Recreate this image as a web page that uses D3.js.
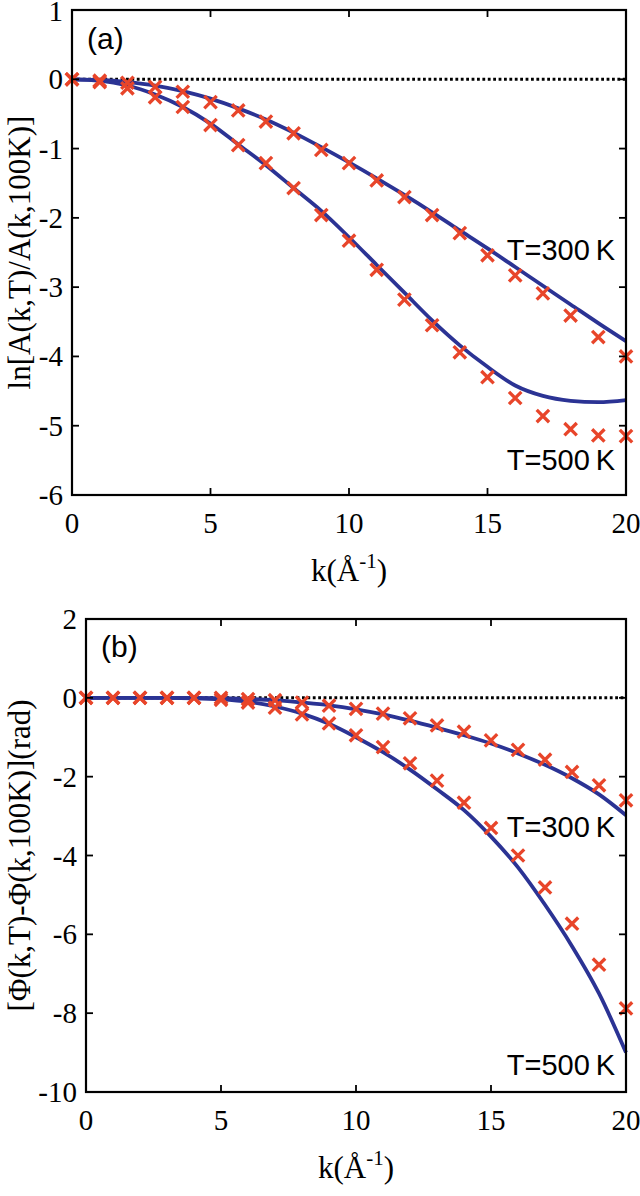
<!DOCTYPE html>
<html>
<head>
<meta charset="utf-8">
<script src="https://cdn.jsdelivr.net/npm/d3@7"></script>
<style>
  html, body { margin: 0; padding: 0; background: #fff; }
  svg { display: block; }
</style>
</head>
<body>
<svg id="chart" width="640" height="1196"></svg>
<script>
// ---------- data ----------
const kValues = [0,1,2,3,4,5,6,7,8,9,10,11,12,13,14,15,16,17,18,19,20];

// panel (a): ln[A(k,T)/A(k,100K)]
const a300Markers = [0, -0.02, -0.05, -0.11, -0.18, -0.33, -0.45, -0.61, -0.78, -1.02, -1.21, -1.46, -1.7, -1.96, -2.22, -2.54, -2.83, -3.09, -3.41, -3.72, -4.0];
const a500Markers = [0, -0.04, -0.13, -0.26, -0.4, -0.66, -0.95, -1.21, -1.57, -1.96, -2.33, -2.75, -3.18, -3.55, -3.94, -4.3, -4.6, -4.86, -5.05, -5.14, -5.15];
const a300Line = [0, -0.01, -0.04, -0.09, -0.17, -0.28, -0.42, -0.58, -0.77, -0.98, -1.2, -1.43, -1.67, -1.92, -2.18, -2.44, -2.71, -2.98, -3.25, -3.52, -3.78];
const a500Line = [0, -0.02, -0.09, -0.22, -0.4, -0.64, -0.94, -1.24, -1.57, -1.9, -2.28, -2.68, -3.08, -3.48, -3.84, -4.15, -4.42, -4.57, -4.64, -4.66, -4.63];

// panel (b): [Phi(k,T)-Phi(k,100K)](rad)
const b300Markers = [0, 0, 0, 0, 0, 0, -0.03, -0.06, -0.12, -0.2, -0.28, -0.4, -0.52, -0.7, -0.86, -1.08, -1.32, -1.57, -1.88, -2.22, -2.6];
const b500Markers = [0, 0, 0, 0, 0, -0.05, -0.12, -0.25, -0.42, -0.65, -0.95, -1.25, -1.66, -2.1, -2.66, -3.3, -4.0, -4.81, -5.73, -6.77, -7.88];
const b300Line = [0, 0, 0, 0, 0, -0.01, -0.03, -0.06, -0.12, -0.19, -0.29, -0.42, -0.58, -0.76, -0.95, -1.16, -1.41, -1.7, -2.04, -2.45, -2.98];
const b500Line = [0, 0, 0, 0, -0.01, -0.04, -0.1, -0.22, -0.4, -0.66, -1.0, -1.38, -1.82, -2.32, -2.85, -3.52, -4.3, -5.25, -6.3, -7.5, -9.0];

const xTicks = [0, 5, 10, 15, 20];
const aYTicks = [1, 0, -1, -2, -3, -4, -5, -6];
const bYTicks = [2, 0, -2, -4, -6, -8, -10];

// ---------- style ----------
const LINE_COLOR = "#2b3394";
const MARK_COLOR = "#e8452a";
const SERIF = "'Liberation Serif', 'Times New Roman', serif";
const SANS = "'Liberation Sans', Arial, sans-serif";

const svg = d3.select("#chart");

function drawPanel(cfg) {
  const g = svg.append("g");
  const x = d3.scaleLinear().domain([0, 20]).range([cfg.left, cfg.right]);
  const y = d3.scaleLinear().domain(cfg.yDomain).range([cfg.top, cfg.bottom]);
  const T = 7;

  // zero dotted line
  g.append("line")
    .attr("x1", x(0)).attr("x2", x(20))
    .attr("y1", y(0)).attr("y2", y(0))
    .attr("stroke", "#000").attr("stroke-width", 3)
    .attr("stroke-dasharray", "2.8,2.6");

  // lines
  const lineGen = d3.line()
    .x((d, i) => x(kValues[i]))
    .y(d => y(d))
    .curve(d3.curveMonotoneX);
  [cfg.line300, cfg.line500].forEach(arr => {
    g.append("path").attr("d", lineGen(arr))
      .attr("fill", "none").attr("stroke", LINE_COLOR)
      .attr("stroke-width", 3.8).attr("stroke-linejoin", "round");
  });

  // markers (crosses)
  const s = 6.2;
  [cfg.mark300, cfg.mark500].forEach(arr => {
    g.append("g").selectAll("path").data(arr).join("path")
      .attr("d", (d, i) => {
        const cx = x(kValues[i]), cy = y(d);
        return `M${cx - s},${cy - s}L${cx + s},${cy + s}M${cx - s},${cy + s}L${cx + s},${cy - s}`;
      })
      .attr("stroke", MARK_COLOR).attr("stroke-width", 3.3).attr("fill", "none");
  });

  // frame
  g.append("rect")
    .attr("x", cfg.left).attr("y", cfg.top)
    .attr("width", cfg.right - cfg.left).attr("height", cfg.bottom - cfg.top)
    .attr("fill", "none").attr("stroke", "#000").attr("stroke-width", 2.2);

  // ticks (inward, mirrored)
  const tk = g.append("g").attr("stroke", "#000").attr("stroke-width", 1.8);
  xTicks.forEach(t => {
    tk.append("line").attr("x1", x(t)).attr("x2", x(t)).attr("y1", cfg.bottom).attr("y2", cfg.bottom - T);
    tk.append("line").attr("x1", x(t)).attr("x2", x(t)).attr("y1", cfg.top).attr("y2", cfg.top + T);
  });
  cfg.yTicks.forEach(t => {
    tk.append("line").attr("x1", cfg.left).attr("x2", cfg.left + T).attr("y1", y(t)).attr("y2", y(t));
    tk.append("line").attr("x1", cfg.right).attr("x2", cfg.right - T).attr("y1", y(t)).attr("y2", y(t));
  });

  // tick labels
  g.append("g").selectAll("text").data(xTicks).join("text")
    .attr("x", d => x(d)).attr("y", cfg.bottom + 38)
    .attr("text-anchor", "middle")
    .attr("font-family", SERIF).attr("font-size", 29)
    .text(d => String(d));
  g.append("g").selectAll("text").data(cfg.yTicks).join("text")
    .attr("x", cfg.left - 9).attr("y", d => Math.max(y(d) + 10, 21))
    .attr("text-anchor", "end")
    .attr("font-family", SERIF).attr("font-size", 29)
    .text(d => String(d));

  // x label
  const xl = g.append("text")
    .attr("x", (cfg.left + cfg.right) / 2).attr("y", cfg.bottom + 86)
    .attr("text-anchor", "middle")
    .attr("font-family", SERIF).attr("font-size", 31);
  xl.append("tspan").text("k(Å");
  xl.append("tspan").attr("font-size", 21).attr("dy", -13).text("-1");
  xl.append("tspan").attr("dy", 13).text(")");

  // y label
  g.append("text")
    .attr("transform", `translate(${cfg.yLabelX},${(cfg.top + cfg.bottom) / 2}) rotate(-90)`)
    .attr("text-anchor", "middle")
    .attr("font-family", SERIF).attr("font-size", cfg.yLabelSize)
    .text(cfg.yLabel);

  // panel label
  g.append("text")
    .attr("x", cfg.panelX).attr("y", cfg.panelY)
    .attr("font-family", SANS).attr("font-size", 30)
    .text(cfg.panel);

  // temperature labels
  g.append("text")
    .attr("x", 615).attr("y", cfg.t300Y)
    .attr("text-anchor", "end")
    .attr("font-family", SANS).attr("font-size", 29)
    .text("T=300\u2009K");
  g.append("text")
    .attr("x", 615).attr("y", cfg.t500Y)
    .attr("text-anchor", "end")
    .attr("font-family", SANS).attr("font-size", 29)
    .text("T=500\u2009K");
}

drawPanel({
  left: 72, right: 626, top: 10, bottom: 495,
  yDomain: [1, -6], yTicks: aYTicks,
  line300: a300Line, line500: a500Line,
  mark300: a300Markers, mark500: a500Markers,
  yLabel: "ln[A(k,T)/A(k,100K)]", yLabelX: 30, yLabelSize: 31,
  panel: "(a)", panelX: 87, panelY: 49,
  t300Y: 260, t500Y: 470
});

drawPanel({
  left: 86, right: 626, top: 619, bottom: 1092,
  yDomain: [2, -10], yTicks: bYTicks,
  line300: b300Line, line500: b500Line,
  mark300: b300Markers, mark500: b500Markers,
  yLabel: "[Φ(k,T)-Φ(k,100K)](rad)", yLabelX: 30, yLabelSize: 31,
  panel: "(b)", panelX: 101, panelY: 657,
  t300Y: 837, t500Y: 1075
});
</script>
</body>
</html>
